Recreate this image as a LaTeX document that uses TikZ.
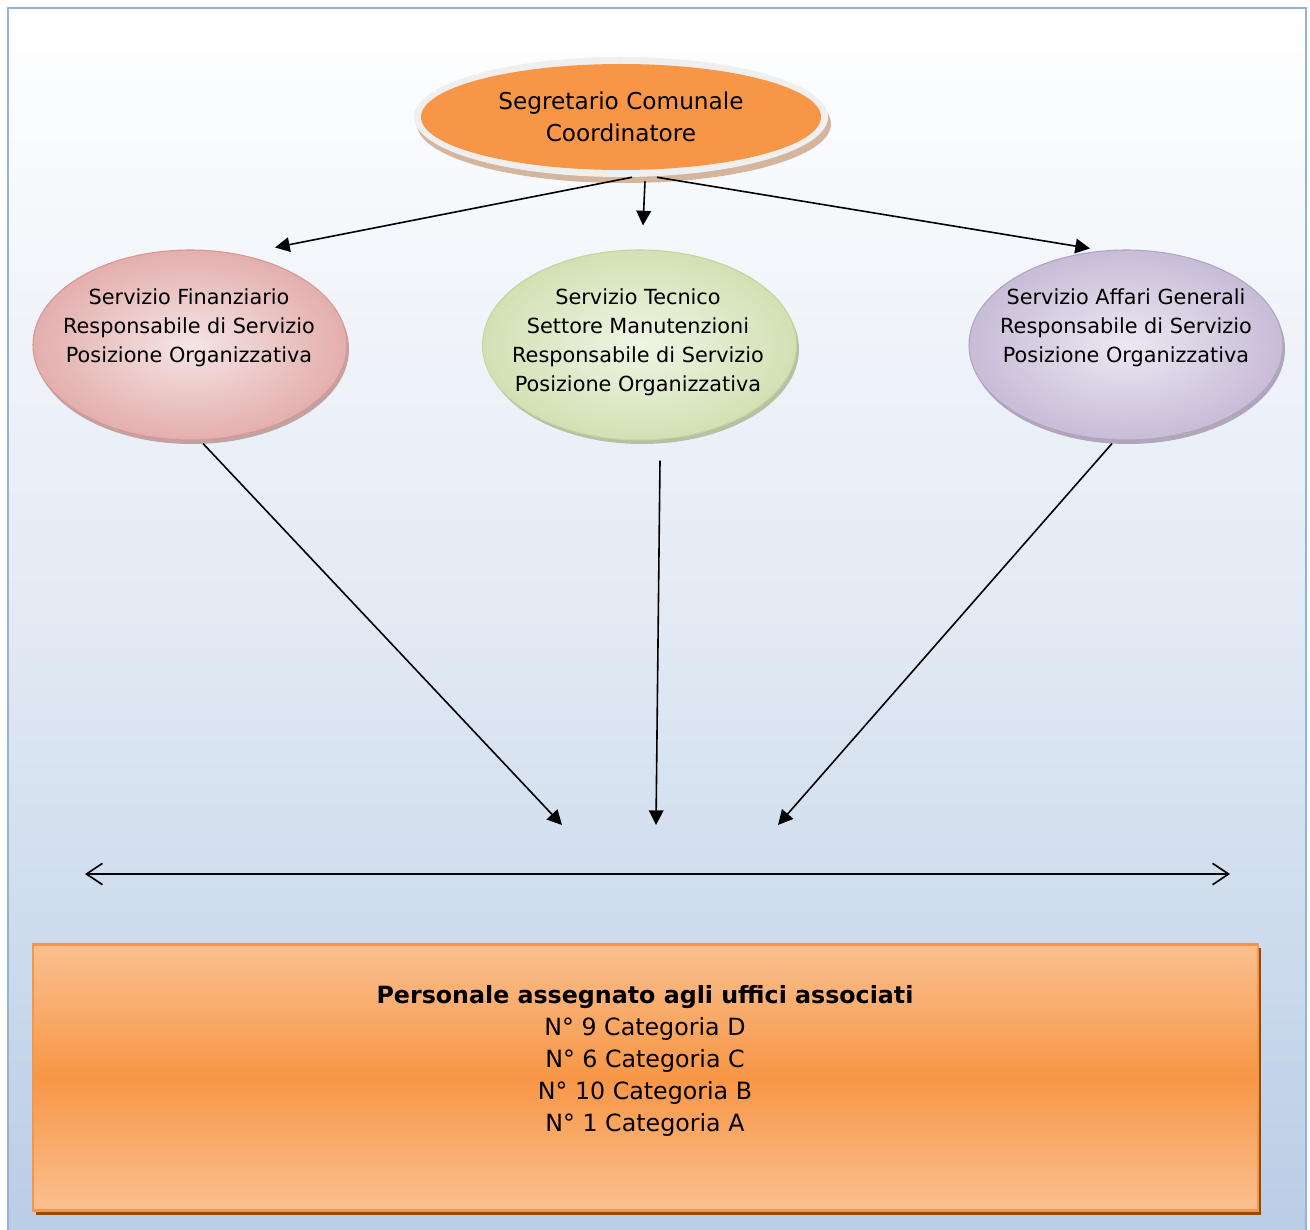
\documentclass[tikz,border=0pt]{standalone}
\usepackage{fontspec}
\setmainfont{DejaVu Sans}
\usetikzlibrary{arrows.meta,shapes.geometric,calc}
\definecolor{frameblue}{HTML}{95B3D7}
\definecolor{bgblue}{HTML}{B9CDE5}
\definecolor{orng}{HTML}{F79646}
\definecolor{lorng}{HTML}{FAC090}
\definecolor{dbrown}{HTML}{984807}
\definecolor{rimgrey}{HTML}{EFEFEF}
\definecolor{tshadow}{HTML}{C9A284}
\definecolor{pinkA}{HTML}{E3AFAE}
\definecolor{pinkB}{HTML}{F5E4E4}
\definecolor{pinkE}{HTML}{D99694}
\definecolor{greenA}{HTML}{D2E1B4}
\definecolor{greenB}{HTML}{EFF5E4}
\definecolor{greenE}{HTML}{C3D69B}
\definecolor{purA}{HTML}{C8BCD7}
\definecolor{purB}{HTML}{ECE8F2}
\definecolor{purE}{HTML}{B3A2C7}
\newcommand\myEllFont{\fontsize{15.6pt}{21.75pt}\selectfont}
\newcommand\myTopFont{\fontsize{17.4pt}{24pt}\selectfont}
\newcommand\myBoxFont{\fontsize{17.8pt}{24pt}\selectfont}
\begin{document}
\begin{tikzpicture}[x=0.75pt,y=-0.75pt,
  sideell/.style={ellipse, minimum width=235.5pt, minimum height=142.5pt, inner sep=0pt, line width=0.8pt},
  elltext/.style={align=center, font=\myEllFont, inner sep=0pt},
  arr/.style={-{Triangle[length=11pt,width=11pt]}, line width=1.2pt},
  dblarr/.style={{Straight Barb[length=12pt,width=16pt]}-{Straight Barb[length=12pt,width=16pt]}, line width=1.2pt}]
\clip (0,0) rectangle (1310,1230);
\useasboundingbox (0,0) rectangle (1310,1230);
\fill[white] (0,0) rectangle (1310,1230);
\shade[top color=white, bottom color=bgblue, middle color=bgblue!42!white] (8,8) rectangle (1306,1240);
\draw[frameblue, line width=2.2pt] (8,8) rectangle (1306,1240);

% top ellipse
\fill[tshadow!80!white] (624,124) ellipse [x radius=207, y radius=59];
\fill[rimgrey] (621,117) ellipse [x radius=207, y radius=60];
\node[ellipse, fill=orng, minimum width=300pt, minimum height=79.5pt, inner sep=0pt,
  align=center, font=\myTopFont] (top) at (621,117) {Segretario Comunale\\Coordinatore};

% side ellipses
\fill[pinkE!55!gray!80!white] (192,349) ellipse [x radius=157, y radius=95];
\node[sideell, draw=pinkE, inner color=pinkB, outer color=pinkA] (fin) at (190,345) {};
\node[elltext] (finT) at (189,328)
  {Servizio Finanziario\\Responsabile di Servizio\\Posizione Organizzativa};
\fill[greenE!55!gray!80!white] (642,349) ellipse [x radius=157, y radius=95];
\node[sideell, draw=greenE, inner color=greenB, outer color=greenA] (tec) at (639.5,345) {};
\node[elltext] (tecT) at (638,342.5)
  {Servizio Tecnico\\Settore Manutenzioni\\Responsabile di Servizio\\Posizione Organizzativa};
\fill[purE!55!gray!80!white] (1128,349) ellipse [x radius=157, y radius=95];
\node[sideell, draw=purE, inner color=purB, outer color=purA] (aff) at (1126,345) {};
\node[elltext] (affT) at (1126,328)
  {Servizio Affari Generali\\Responsabile di Servizio\\Posizione Organizzativa};

% bottom box
\fill[dbrown] (36,948) rectangle (1261,1215);
\node[rectangle, draw=orng, line width=2.2pt, top color=lorng, bottom color=lorng, middle color=orng,
  minimum width=918.75pt, minimum height=200pt, inner sep=0pt] (box) at (645.5,1077.5) {};
\node[align=center, font=\myBoxFont, inner sep=0pt] (boxtext) at (645,1061)
  {\textbf{Personale assegnato agli uffici associati}\\N° 9 Categoria D\\N° 6 Categoria C\\N° 10 Categoria B\\N° 1 Categoria A};

% connectors
\draw[arr] ($(top.south)+(11,7)$) -- ($(fin.north)+(85,-2)$);
\draw[arr] ($(top.south)+(24,11)$) -- ($(tec.north)+(3.5,-24)$);
\draw[arr] ($(top.south)+(36,7)$) -- ($(aff.north)+(-36,-1)$);

\coordinate (c1) at (562,825);
\coordinate (c2) at (656,825);
\coordinate (c3) at (778,825);
\draw[arr] ($(fin.south)+(13,3)$) -- (c1);
\draw[arr] ($(tec.south)+(20.5,20)$) -- (c2);
\draw[arr] ($(aff.south)+(-14,3)$) -- (c3);

\coordinate (dl) at (85,874);
\coordinate (dr) at (1230,874);
\draw[dblarr] (dl) -- (dr);
\end{tikzpicture}
\end{document}
